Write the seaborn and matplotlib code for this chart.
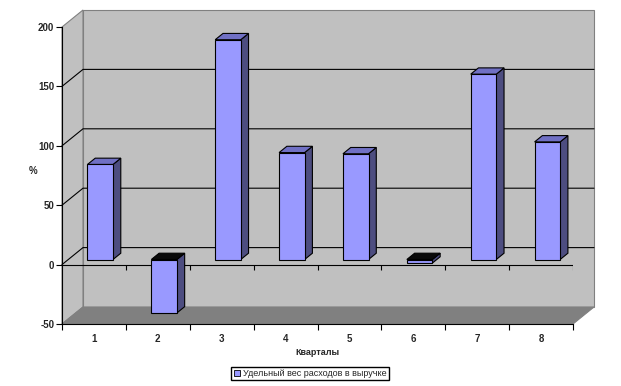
import matplotlib
matplotlib.use("Agg")
import matplotlib.pyplot as plt
import matplotlib.transforms as mtransforms
from matplotlib.patches import Polygon, Patch
import seaborn as sns

quarters = ["1", "2", "3", "4", "5", "6", "7", "8"]
share = [80, -45, 185, 90, 89, -3, 156, 99]
series_name = "Удельный вес расходов в выручке"
yticks = [-50, 0, 50, 100, 150, 200]

W, H = 621, 386
DX, DY = 21, 17          # depth of the 3d box, px
D0, D1 = 0.30, 0.67      # bar depth (front / back), fraction of box depth

sns.set_theme(style="white")
plt.rcParams["font.family"] = ["Liberation Sans", "DejaVu Sans"]

fig = plt.figure(figsize=(W / 100, H / 100), dpi=100)
fig.patch.set_facecolor("white")
ax = fig.add_axes([62 / W, 62 / H, 511 / W, 297 / H])
ax.patch.set_visible(False)

sns.barplot(x=quarters, y=share, color="#9999FF", saturation=1, width=0.4,
            edgecolor="black", linewidth=0.8, ax=ax, zorder=3)

ax.set_xlim(-0.5, len(quarters) - 0.5)
ax.set_ylim(-50, 200)


def pt(x, y, d=0.0):
    px, py = ax.transData.transform((x, y))
    return ((px + d * DX) / W, (py + d * DY) / H)


def poly(points, fc, ec, z, lw=0.8):
    ax.add_patch(Polygon(points, closed=True, facecolor=fc, edgecolor=ec,
                         linewidth=lw, transform=fig.transFigure,
                         clip_on=False, zorder=z))


x0, x1 = ax.get_xlim()
y0, y1 = ax.get_ylim()

# walls and floor
poly([pt(x0, y0, 1), pt(x1, y0, 1), pt(x1, y1, 1), pt(x0, y1, 1)], "#C0C0C0", "#808080", 0.1)
poly([pt(x0, y0, 0), pt(x0, y0, 1), pt(x0, y1, 1), pt(x0, y1, 0)], "#C0C0C0", "#808080", 0.1)
poly([pt(x0, y0, 0), pt(x1, y0, 0), pt(x1, y0, 1), pt(x0, y0, 1)], "#808080", "#808080", 0.15)

# gridlines on the walls
for v in yticks[1:-1]:
    a, b, c = pt(x0, v, 0), pt(x0, v, 1), pt(x1, v, 1)
    ax.add_line(plt.Line2D([a[0], b[0], c[0]], [a[1], b[1], c[1]], color="black",
                           lw=0.8, transform=fig.transFigure, clip_on=False, zorder=0.3))

# category axis at zero in the front plane
bounds = [i - 0.5 for i in range(len(quarters) + 1)]
ax.axhline(0, color="black", lw=0.8, zorder=0.5)
ax.vlines(bounds[1:], 0, -4.2, color="black", lw=0.8, zorder=0.5)

# 3d faces of the bars
off = mtransforms.ScaledTranslation(D0 * DX / 100, D0 * DY / 100, fig.dpi_scale_trans)
for p in ax.patches:
    if not isinstance(p, matplotlib.patches.Rectangle) or p.get_width() > 1:
        continue
    bx0 = p.get_x()
    bx1 = bx0 + p.get_width()
    lo = min(p.get_y(), p.get_y() + p.get_height())
    hi = max(p.get_y(), p.get_y() + p.get_height())
    p.set_transform(ax.transData + off)
    top_col = "#7070C4" if p.get_height() >= 0 else "#0a0a0a"
    poly([pt(bx1, lo, D0), pt(bx1, lo, D1), pt(bx1, hi, D1), pt(bx1, hi, D0)], "#4D4D80", "black", 2.9)
    poly([pt(bx0, hi, D0), pt(bx1, hi, D0), pt(bx1, hi, D1), pt(bx0, hi, D1)], top_col, "black", 2.9)

# axes styling
for s in ["top", "right"]:
    ax.spines[s].set_visible(False)
for s in ["left", "bottom"]:
    ax.spines[s].set_color("black")
    ax.spines[s].set_linewidth(0.8)
    ax.spines[s].set_zorder(4)

ax.set_yticks(yticks)
ax.set_yticklabels([str(v) for v in yticks], fontsize=7, fontweight="bold")
ax.tick_params(axis="y", direction="out", length=4, width=0.8, color="black", pad=1.5, left=True)
ax.set_xticks(range(len(quarters)))
ax.set_xticklabels(quarters, fontsize=7, fontweight="bold")
ax.set_xticks(bounds, minor=True)
ax.tick_params(axis="x", which="major", length=0, pad=7)
ax.tick_params(axis="x", which="minor", direction="out", length=4, width=0.8, color="black", bottom=True)

ax.set_ylabel("%", rotation=0, fontsize=7, fontweight="bold")
ax.yaxis.set_label_coords(-0.057, 0.5)
ax.set_xlabel("Кварталы", fontsize=6.5, fontweight="bold")
ax.xaxis.set_label_coords(0.5, -0.08)

fig.legend(handles=[Patch(facecolor="#9999FF", edgecolor="black", linewidth=0.6)],
           labels=[series_name], loc="center", bbox_to_anchor=(310 / W, 1 - 373.5 / H),
           fontsize=6.5, frameon=True, fancybox=False, edgecolor="black", framealpha=1,
           handlelength=0.7, handleheight=0.7, handletextpad=0.3, borderpad=0.25,
           borderaxespad=0)

fig.savefig("out.png", dpi=100)
